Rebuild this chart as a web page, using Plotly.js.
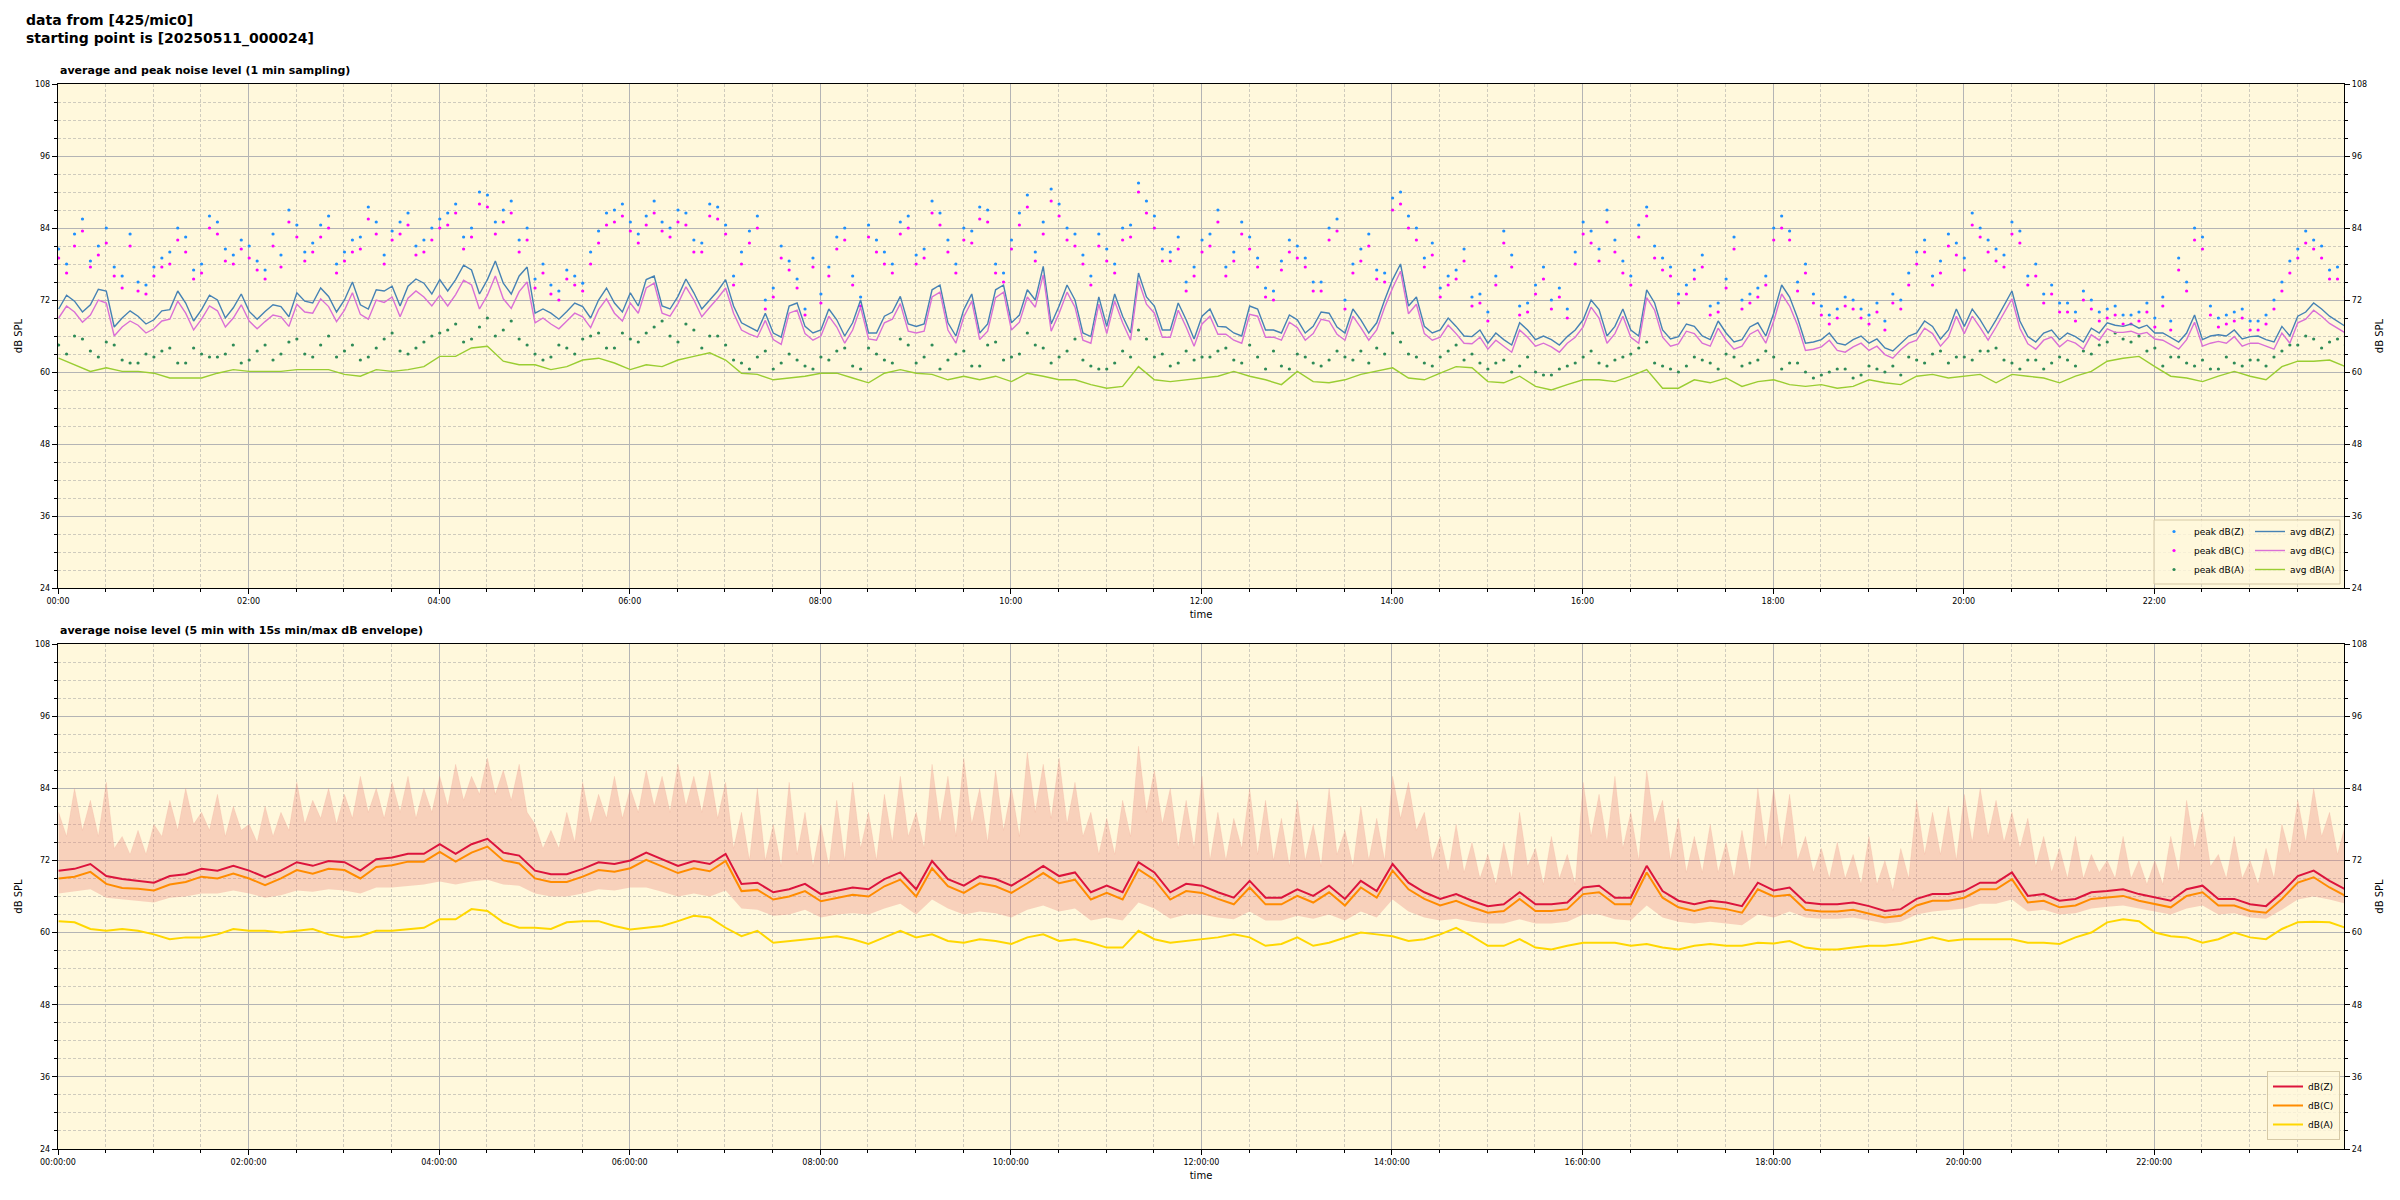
<!DOCTYPE html>
<html><head><meta charset="utf-8">
<script src="https://cdn.plot.ly/plotly-3.0.1.min.js"></script>
<style>html,body{margin:0;padding:0;background:#fff}#chart{width:2400px;height:1200px}</style>
</head><body><div id="chart"></div>
<script>
// ---------- data ----------
const startTime = [2025, 4, 11, 0, 0, 24];
const stepMinutes = 10;   // main samples: 00:00:24, 00:10:24, ...
const halfStepMinutes = 5; // "mid" samples sit halfway between main samples

// top panel: 1-min averages / peaks, main samples
const avgZ = [70.5,71.8,71.2,73.5,69.0,69.3,68.7,70.4,71.5,70.4,72.0,70.7,70.1,70.1,70.9,73.2,71.5,72.6,72.0,71.2,73.7,74.3,74.3,74.8,75.4,75.4,77.0,75.4,74.8,76.0,69.8,69.8,70.1,70.9,72.0,71.5,73.2,
  75.4,71.0,72.6,73.2,72.0,75.4,68.2,66.8,66.5,71.0,67.6,67.0,68.7,68.2,66.5,69.3,72.6,67.6,73.7,68.2,70.4,66.5,73.7,68.2,73.7,77.6,71.0,72.0,65.9,67.6,69.3,76.5,71.0,67.0,68.7,69.3,
  67.6,66.5,71.0,67.0,66.5,68.7,67.6,69.8,66.5,68.7,68.2,75.4,71.0,67.6,67.0,67.6,65.9,64.8,65.4,68.2,65.4,65.4,65.9,68.7,70.4,67.6,67.0,73.7,67.0,65.9,67.6,65.4,66.5,65.4,68.2,69.8,
  72.5,64.8,65.4,64.8,65.4,64.8,64.0,64.8,66.5,67.6,67.0,67.6,68.7,68.7,73.5,65.9,66.5,65.4,65.9,67.3,68.2,67.6,67.3,66.5,65.7,66.5,65.4,66.2,67.0,65.9,65.4,67.6,69.3,71.5,69.3,67.6];
const avgZmid = [72.8,70.0,73.8,67.5,70.2,68.0, 70.2,73.5,68.5,72.8,69.0,73.0, 68.8,71.2,69.2,71.8,74.0,70.0, 75.0,70.5,73.5,71.0,75.5,73.0,
  73.5,77.8,73.0,78.5,73.0,77.5, 70.5,68.8,71.5,69.0,74.0,70.0, 71.0,76.0,70.5,75.5,70.5,73.5, 71.0,67.5,69.8,65.8,71.5,66.5,
  70.5,66.0,72.0,66.5,70.0,68.0, 68.0,74.5,66.0,73.0,68.0,74.5, 69.5,72.0,68.0,74.5,66.5,72.5, 73.0,66.5,72.5,67.0,71.5,65.5,
  70.5,67.5,66.0,70.5,67.0,69.5, 66.5,70.0,67.5,70.5,66.5,72.0, 78.0,72.5,66.5,69.0,66.0,67.0, 66.5,64.5,67.0,66.0,64.5,67.0,
  72.0,66.0,70.5,66.0,71.5,65.5, 68.0,66.0,68.5,65.0,67.5,66.0, 74.5,69.0,65.0,66.5,64.5,66.0, 65.5,63.5,66.0,68.5,65.5,70.5,
  70.5,66.5,71.0,68.5,65.0,67.0, 66.5,65.0,66.5,67.8,68.0,67.8, 66.5,65.0,69.5,66.0,66.0,65.5, 66.0,65.0,66.0,70.0,70.5,68.5];
const avgC = [69.0,70.0,69.5,71.5,67.5,67.8,67.2,68.8,69.8,68.8,70.2,69.0,68.5,68.4,69.2,71.3,69.8,70.9,70.3,69.6,72.0,72.5,72.3,72.5,72.8,72.9,74.5,72.8,72.2,73.4,68.2,68.0,68.5,69.2,70.4,69.8,71.5,
  74.0,69.8,71.4,72.0,70.8,74.0,67.0,65.8,65.4,69.8,66.4,66.0,67.5,67.0,65.5,68.2,71.4,66.5,72.5,67.0,69.2,65.4,72.4,67.0,72.5,76.2,69.8,70.8,64.8,66.4,68.2,75.2,69.8,65.8,67.5,68.0,
  66.3,65.3,69.6,65.8,65.3,67.4,66.4,68.5,65.3,67.4,67.0,74.0,69.7,66.4,65.8,66.4,64.7,63.8,64.3,67.0,64.3,64.2,64.8,67.5,69.0,66.4,65.8,72.4,65.8,64.7,66.4,64.3,65.3,64.3,67.0,68.5,
  71.0,63.6,64.2,63.6,64.2,63.6,62.9,63.7,65.3,66.4,65.8,66.4,67.4,67.5,72.2,64.7,65.3,64.2,64.8,66.2,67.2,66.6,66.3,65.5,64.6,65.4,64.3,65.1,65.9,64.8,64.3,66.5,68.2,70.3,68.1,66.5];
const avgCmid = [71.0,68.3,72.0,66.0,68.5,66.5, 68.5,71.8,67.0,71.0,67.5,71.2, 67.2,69.5,67.6,70.0,72.2,68.4, 73.2,68.8,71.6,69.2,73.5,71.0,
  71.0,75.3,70.5,76.0,70.6,75.0, 69.0,67.2,69.8,67.4,72.2,68.5, 69.8,74.8,69.3,74.2,69.2,72.3, 69.8,66.3,68.6,64.6,70.3,65.3,
  69.3,64.8,70.8,65.3,68.8,66.8, 66.8,73.3,64.8,71.8,66.8,73.3, 68.3,70.8,66.8,73.3,65.3,71.3, 71.8,65.3,71.3,65.8,70.3,64.3,
  69.3,66.3,64.8,69.3,65.8,68.3, 65.3,68.8,66.3,69.3,65.3,70.8, 76.8,71.3,65.3,67.8,64.8,65.8, 65.3,63.3,65.8,64.8,63.3,65.8,
  70.8,64.8,69.3,64.8,70.3,64.3, 66.8,64.8,67.3,63.8,66.3,64.8, 73.0,67.8,63.8,65.3,63.3,64.8, 64.3,62.3,64.8,67.3,64.3,69.3,
  69.3,65.3,69.8,67.3,63.8,65.8, 65.3,63.8,65.3,66.6,66.8,66.6, 65.3,63.8,68.3,64.8,64.8,64.3, 64.8,63.8,64.8,68.8,69.3,67.3];
const avgA = [62.3,61.2,60.1,60.7,60.1,60.1,59.8,59.0,59.0,59.0,59.8,60.4,60.1,60.1,60.1,60.4,60.4,60.4,59.6,59.3,60.4,60.1,60.4,60.9,62.6,62.6,64.0,64.3,61.8,61.2,61.2,60.4,60.9,62.0,62.3,61.5,60.4,
  61.2,60.9,62.0,62.6,63.2,62.0,59.8,59.6,58.7,59.0,59.3,59.8,59.8,59.0,58.2,59.8,60.4,59.8,59.6,58.7,59.3,58.7,59.3,58.4,59.8,59.3,58.7,58.7,57.9,57.3,57.6,60.9,58.7,58.4,58.7,59.0,
  59.3,60.1,59.3,58.7,57.9,60.1,58.4,58.2,58.7,59.6,60.1,60.7,59.0,58.7,59.8,60.9,60.7,58.4,58.2,59.3,57.6,57.0,57.9,58.7,58.7,58.4,59.3,60.4,57.3,57.3,58.7,58.2,59.0,57.6,58.4,58.7,
  57.9,57.6,57.9,57.3,57.6,58.7,58.2,57.9,59.3,59.6,59.0,59.3,59.6,58.2,59.6,59.3,59.0,58.2,59.3,60.1,61.8,62.3,62.6,60.9,59.3,59.0,58.4,59.3,60.1,59.3,58.7,60.9,61.8,61.8,62.0,60.9];
const peakZ = [80.5,83.0,78.5,84.0,76.0,75.0,77.5,80.0,82.5,78.0,85.0,79.5,81.0,77.0,79.5,84.5,81.5,86.0,80.0,82.5,85.0,83.5,86.5,82.0,85.5,88.0,84.0,89.5,87.0,82.0,75.5,74.5,77.0,74.8,83.5,87.0,85.0,
  86.0,85.0,87.0,82.0,88.0,84.5,80.0,86.0,74.0,78.5,70.5,73.0,82.5,76.0,84.5,80.0,85.0,79.5,88.5,82.0,84.0,87.5,78.0,82.0,89.5,85.0,88.0,83.0,76.0,80.5,84.0,91.5,86.0,80.0,75.0,82.0,
  87.0,80.0,82.5,74.0,78.5,81.0,75.0,84.0,72.0,80.5,77.0,89.0,86.0,79.0,74.0,77.0,72.5,70.0,83.5,71.0,74.5,72.0,70.5,85.0,80.5,82.0,76.0,87.5,79.0,73.0,77.0,71.0,75.5,72.0,74.0,84.0,
  83.5,78.0,71.0,70.5,72.0,69.5,68.5,72.0,80.0,76.0,83.0,79.0,84.0,80.5,85.0,76.0,73.0,71.5,70.0,72.0,70.5,69.5,70.0,69.0,68.5,75.0,82.5,69.0,70.0,68.5,69.5,75.0,80.5,82.0,77.0,74.0];
const peakZmid = [78.0,85.5,81.0,77.5,83.0,74.5, 79.0,84.0,77.0,86.0,80.5,82.0, 78.5,83.0,87.0,80.0,84.5,78.0, 82.0,87.5,79.5,85.0,81.0,84.0,
  86.5,82.5,90.0,85.0,88.5,84.0, 78.0,73.5,76.0,80.0,86.5,88.0, 83.0,88.5,84.0,86.5,81.5,87.5, 76.0,83.5,72.0,81.0,75.5,79.0,
  77.5,84.0,72.5,82.0,78.0,86.0, 80.5,86.5,78.0,83.5,87.0,76.5, 86.5,80.0,90.5,84.0,79.5,83.0, 78.0,84.5,88.5,80.5,82.5,77.5,
  83.0,77.5,85.0,79.0,73.5,82.0, 79.0,75.0,85.5,78.0,83.0,76.5, 90.0,84.0,81.5,76.0,80.5,73.0, 76.0,79.5,71.5,77.5,74.0,80.0,
  83.5,87.0,78.5,84.5,81.0,77.5, 74.5,79.5,71.5,82.5,73.0,76.0, 86.0,75.0,73.0,69.5,72.5,70.5, 71.5,73.0,76.5,82.0,78.5,81.5,
  86.5,82.0,79.5,83.5,78.0,74.5, 71.5,73.5,70.0,71.0,69.5,71.5, 72.5,79.0,84.0,71.0,69.5,70.5, 68.5,72.0,78.5,83.5,81.0,77.5];
const peakC = [79.0,81.0,77.5,81.5,74.0,73.5,76.0,78.0,80.0,76.5,83.0,78.0,79.0,75.5,77.5,82.5,80.0,84.0,78.5,80.5,83.0,82.0,84.5,80.0,84.0,86.5,82.5,87.5,85.0,80.0,74.0,73.0,75.5,73.5,81.5,85.0,83.5,
  84.5,83.5,85.0,80.0,86.0,83.0,78.0,84.0,72.5,77.0,69.5,71.5,80.5,74.5,82.5,78.0,83.0,78.0,86.5,80.0,82.0,85.5,76.5,80.5,87.5,83.0,86.0,81.0,74.5,78.5,82.0,90.0,84.0,78.5,73.5,80.0,
  85.0,78.5,80.5,72.5,77.0,79.0,73.5,82.0,70.5,78.5,75.5,87.0,84.0,77.5,72.5,75.5,71.0,68.5,81.5,69.5,73.0,70.5,69.0,83.0,78.5,80.0,74.5,86.0,77.0,71.5,75.5,69.5,74.0,70.5,72.5,82.0,
  82.0,76.5,69.5,69.0,70.5,68.0,67.0,70.5,78.0,74.5,81.0,77.0,82.5,78.5,83.0,74.5,71.5,70.0,68.5,70.5,69.0,68.0,68.5,67.5,67.0,73.5,80.5,67.5,68.5,67.0,68.0,73.5,79.0,80.5,75.5,72.5];
const peakCmid = [76.5,83.5,79.5,76.0,81.0,73.0, 77.5,82.0,75.5,84.0,78.5,80.5, 77.0,81.0,85.0,78.5,82.5,76.5, 80.0,85.5,78.0,83.0,79.5,82.0,
  84.5,80.5,88.0,83.0,86.5,82.0, 76.5,72.0,74.5,78.0,84.5,86.0, 81.5,86.5,82.5,84.5,80.0,85.5, 74.5,81.5,70.5,79.0,74.0,77.5,
  76.0,82.0,71.0,80.0,76.5,84.0, 79.0,84.5,76.5,81.5,85.0,75.0, 84.5,78.5,88.5,82.0,78.0,81.0, 76.5,82.5,86.5,78.5,80.5,76.0,
  81.0,76.0,83.0,77.5,72.0,80.0, 77.5,73.5,83.5,76.5,81.0,75.0, 88.0,82.0,79.5,74.5,78.5,71.5, 74.5,77.5,70.0,75.5,72.5,78.0,
  81.5,85.0,76.5,82.5,79.0,76.0, 73.0,77.5,70.0,80.5,71.5,74.5, 84.0,73.5,71.5,68.0,71.0,69.0, 70.0,71.5,74.5,80.0,76.5,79.5,
  84.5,80.0,77.5,81.5,76.0,73.0, 70.0,72.0,68.5,69.5,68.0,70.0, 71.0,77.0,82.0,69.5,68.0,69.0, 67.0,70.5,76.5,81.5,79.0,75.5];
const peakA = [64.5,66.0,63.5,65.0,62.0,61.5,62.5,64.0,61.5,63.0,62.5,64.5,62.0,64.5,63.0,65.5,62.5,66.0,63.5,62.0,64.0,66.5,63.0,65.0,66.5,68.0,65.5,69.0,67.0,65.5,63.0,62.5,64.0,65.5,66.5,64.0,65.5,
  66.5,68.5,65.0,67.0,66.0,64.5,61.5,62.5,60.5,63.0,61.0,62.5,63.5,61.0,64.0,62.0,65.5,61.5,64.5,62.0,63.5,61.0,65.0,62.5,66.5,64.0,62.5,65.5,61.0,60.5,63.5,67.0,62.5,61.0,63.5,62.5,
  63.5,62.0,64.5,60.5,61.0,63.0,61.5,62.0,62.5,63.5,64.0,66.5,63.0,61.5,62.5,64.5,63.0,60.5,62.0,61.0,60.0,59.5,61.0,62.5,61.5,62.0,63.0,65.0,61.0,60.0,62.5,61.5,63.0,61.0,62.0,62.5,
  61.5,60.0,59.5,60.5,59.0,61.0,60.0,59.5,62.0,63.0,61.5,62.5,63.5,64.0,61.5,62.0,60.5,62.5,61.0,63.0,65.0,65.5,66.0,64.0,62.5,61.5,62.0,60.5,61.5,62.0,61.0,63.5,64.5,65.5,65.0,64.5];
const peakAmid = [63.0,65.5,62.5,64.5,61.5,63.0, 63.5,61.5,64.0,62.5,63.0,61.5, 63.5,62.0,65.0,63.0,64.5,62.5, 64.5,62.5,65.5,63.5,64.0,66.0,
  67.0,65.0,67.5,66.0,68.5,64.5, 62.0,64.5,63.0,66.0,64.0,66.5, 65.0,67.5,66.0,68.0,64.0,66.0, 62.0,60.5,63.5,61.5,62.0,60.5,
  62.0,64.0,60.5,63.0,61.5,64.5, 62.5,60.5,63.0,61.0,64.5,62.0, 63.0,64.5,61.5,63.5,62.0,60.5, 61.5,62.5,65.5,63.0,61.5,62.0,
  62.5,64.0,61.5,62.5,63.5,60.5, 62.5,61.0,63.5,62.0,61.5,63.0, 65.0,62.5,61.0,63.5,62.0,61.5, 61.5,60.0,62.5,59.5,60.5,61.5,
  63.5,61.0,62.5,64.0,61.5,60.5, 61.0,62.0,60.5,62.5,61.5,63.5, 60.5,61.5,59.0,60.0,60.5,59.5, 60.5,61.0,62.5,61.5,63.5,62.5,
  62.0,63.5,62.0,60.5,62.0,61.5, 62.0,63.5,64.5,66.5,65.0,63.5, 61.0,62.5,61.0,60.5,62.5,61.0, 62.0,62.5,64.5,66.0,64.0,65.5];

// bottom panel: 5-min averages (main samples) and 15 s min/max envelope
const levZ = [70.3,70.6,71.4,69.4,68.9,68.6,68.3,69.4,69.7,70.6,70.3,71.1,70.3,69.2,70.3,71.7,71.1,71.9,71.7,70.3,72.2,72.5,73.1,73.1,74.7,73.1,74.7,75.6,73.3,72.8,70.3,69.7,69.7,70.6,71.7,71.4,72.0,
  73.3,72.2,71.1,71.9,71.4,73.1,68.1,68.3,66.7,67.2,68.1,66.4,66.9,67.5,67.2,68.9,70.0,67.2,71.9,68.9,67.8,69.4,68.9,67.8,69.4,71.1,69.4,70.0,66.7,67.8,66.7,71.7,70.0,66.7,68.1,67.8,
  66.7,65.8,68.6,65.8,65.8,67.2,66.1,67.8,65.6,68.6,66.9,71.4,68.3,66.7,65.6,66.4,65.3,64.4,64.7,66.7,64.7,64.7,65.0,67.5,67.8,65.8,65.8,71.1,66.9,65.3,64.7,65.3,65.0,64.4,68.3,67.0,
  67.5,65.0,64.7,64.7,65.0,64.4,63.6,63.9,65.6,66.4,66.4,66.9,68.3,68.3,70.0,66.1,66.4,65.3,65.6,66.7,66.9,67.2,66.4,65.8,65.3,67.2,67.8,65.6,65.6,64.7,64.4,66.7,69.4,70.3,68.6,67.2];
const levC = [69.0,69.3,70.1,68.1,67.4,67.3,67.0,68.0,68.4,69.3,69.0,69.8,69.0,67.9,69.0,70.4,69.8,70.6,70.4,69.0,70.9,71.2,71.8,71.8,73.4,71.8,73.3,74.3,72.0,71.5,69.0,68.4,68.4,69.3,70.4,70.1,70.7,
  72.1,71.0,69.9,70.7,70.2,71.9,66.9,67.1,65.5,66.0,66.9,65.2,65.7,66.3,66.0,67.7,68.8,66.0,70.7,67.7,66.6,68.2,67.7,66.6,68.2,69.9,68.2,68.8,65.5,66.6,65.5,70.5,68.8,65.5,66.9,66.6,
  65.6,64.7,67.5,64.7,64.7,66.1,65.0,66.7,64.5,67.5,65.8,70.3,67.2,65.6,64.5,65.3,64.2,63.3,63.6,65.6,63.6,63.6,63.9,66.4,66.7,64.7,64.7,70.0,65.8,64.2,63.6,64.2,63.9,63.3,67.2,66.0,
  66.3,63.8,63.5,63.5,63.8,63.2,62.5,62.8,64.5,65.3,65.3,65.8,67.2,67.2,68.9,65.0,65.3,64.2,64.5,65.6,65.8,66.1,65.3,64.7,64.2,66.1,66.7,64.5,64.5,63.6,63.3,65.6,68.3,69.2,67.5,66.1];
const levA = [61.9,61.7,60.6,60.3,60.6,60.3,59.7,58.9,59.2,59.2,59.7,60.6,60.3,60.3,60.0,60.3,60.6,59.7,59.2,59.4,60.3,60.3,60.6,60.8,62.2,62.2,63.9,63.6,61.7,60.8,60.8,60.6,61.7,61.9,61.9,61.1,60.5,
  60.8,61.1,61.9,62.8,62.5,60.8,59.4,60.3,58.3,58.6,58.9,59.2,59.4,58.9,58.1,59.2,60.3,59.2,59.7,58.6,58.3,58.9,58.6,58.1,59.2,59.7,58.6,58.9,58.3,57.5,57.5,60.3,58.9,58.3,58.6,58.9,
  59.2,59.7,59.2,57.8,58.1,59.2,57.8,58.3,59.2,60.0,59.7,59.4,58.6,58.9,59.7,60.8,59.4,57.8,57.8,58.9,57.5,57.2,57.8,58.3,58.3,58.3,57.8,58.1,57.5,57.2,57.8,58.1,57.8,57.8,58.3,58.2,
  58.6,57.5,57.2,57.2,57.5,57.8,57.8,58.1,58.6,59.2,58.6,58.9,58.9,58.9,58.9,58.3,58.3,58.1,59.2,60.0,61.7,62.2,61.9,60.0,59.4,59.2,58.3,58.9,60.0,59.2,58.9,60.6,61.7,61.8,61.7,60.8];
const envMin = [66.5,66.8,67.2,65.8,65.5,65.3,65.0,65.8,66.0,66.5,66.5,67.0,66.5,65.8,66.2,67.0,66.8,67.2,67.0,66.5,67.5,67.5,67.8,68.0,68.5,68.0,68.5,68.8,68.0,67.8,66.5,66.0,66.0,66.5,67.2,67.0,67.5,
  67.5,66.8,66.0,66.5,66.0,67.0,64.0,63.8,62.8,63.0,63.8,62.5,63.0,63.2,63.0,64.0,64.8,63.0,65.5,64.0,63.0,63.5,63.2,62.5,63.8,64.5,63.5,64.0,62.0,62.5,62.0,65.0,64.0,62.3,63.0,63.0,
  62.5,62.2,63.5,62.0,62.0,62.8,62.3,63.0,62.0,63.5,62.5,65.5,63.5,62.5,62.0,62.3,61.8,61.5,61.5,62.2,61.5,61.5,61.8,63.0,63.0,62.2,62.0,64.5,62.5,61.8,61.5,61.8,61.5,61.2,63.0,62.5,
  63.5,62.5,62.3,62.3,62.5,62.0,61.5,61.8,63.0,63.5,63.8,64.0,64.8,64.8,65.5,63.5,63.8,63.0,63.2,64.0,64.3,64.5,64.0,63.5,63.0,64.0,64.5,63.0,63.2,62.5,62.3,63.8,65.5,66.0,65.5,64.8];
// envelope maximum, sampled every 5 min (main + mid samples)
const envMax = [80,76,84,77,82,76,85,74,76,73,77,73, 78,76,82,77,84,78,80,77,83,76,81,77,
  78,75,81,76,80,77,85,78,82,79,84,78, 83,79,86,80,84,79,85,80,86,79,84,80,
  86,81,88,82,86,83,89,83,87,82,88,80, 78,74,77,74,80,75,85,78,83,79,86,79,
  84,80,87,81,86,80,88,81,86,80,87,79, 85,74,80,72,84,72,78,71,85,73,80,71,
  78,71,82,72,85,74,80,72,83,75,86,76, 80,74,88,78,86,76,89,78,84,75,87,77,
  84,76,90,80,88,79,89,78,85,76,80,73, 79,73,82,76,91,80,87,78,84,74,82,74,
  86,72,80,72,79,74,84,73,82,72,79,71, 82,72,78,71,84,73,77,71,81,72,79,72,
  86,79,85,77,80,72,76,70,78,70,75,69, 73,68,75,69,80,71,74,68,76,69,73,68,
  85,76,83,75,86,74,80,72,87,78,82,72, 79,70,76,70,78,70,75,69,77,70,84,74,
  84,74,83,72,76,70,74,69,75,69,73,68, 76,68,72,67,74,69,82,73,80,73,81,72,
  83,75,84,76,82,75,80,74,79,71,76,70, 74,69,76,69,73,70,72,69,76,69,72,68,
  72,68,76,70,82,74,80,71,73,69,76,69, 72,68,74,69,78,73,82,75,84,76,80,73, 78];

const yTicks = [24, 36, 48, 60, 72, 84, 96, 108];

// ---------- helpers ----------
function timeAxis(n, stepMin) {
  const base = Date.UTC(startTime[0], startTime[1], startTime[2], startTime[3], startTime[4], startTime[5]);
  const out = [];
  for (let i = 0; i < n; i++) {
    out.push(new Date(base + i * stepMin * 60000).toISOString().slice(0, 19).replace('T', ' '));
  }
  return out;
}
// put main samples and the in-between samples together in time order
function merge(main, mid) {
  const out = [];
  for (let i = 0; i < main.length; i++) {
    out.push(main[i]);
    if (i < mid.length) out.push(mid[i]);
  }
  return out;
}
const t = timeAxis(avgZ.length, stepMinutes);
const t5 = timeAxis(envMax.length, halfStepMinutes);

const FONT = 'DejaVu Sans, sans-serif';
const W = 2400, H = 1200, L = 58, R = 56, T = 84, B = 51;
const plotW = W - L - R, plotH = H - T - B;
const px2x = p => (p - L) / plotW;
const px2y = p => (H - B - p) / plotH;

const traces = [
  {x: t5, y: merge(peakZ, peakZmid), type: 'scatter', mode: 'markers', name: 'peak dB(Z)', marker: {color: '#1e90ff', size: 3.2}, xaxis: 'x', yaxis: 'y', legend: 'legend'},
  {x: t5, y: merge(peakC, peakCmid), type: 'scatter', mode: 'markers', name: 'peak dB(C)', marker: {color: '#ff00ff', size: 3.2}, xaxis: 'x', yaxis: 'y', legend: 'legend'},
  {x: t5, y: merge(peakA, peakAmid), type: 'scatter', mode: 'markers', name: 'peak dB(A)', marker: {color: '#2e8b57', size: 3.2}, xaxis: 'x', yaxis: 'y', legend: 'legend'},
  {x: t5, y: merge(avgZ, avgZmid), type: 'scatter', mode: 'lines', name: 'avg dB(Z)', line: {color: '#4682b4', width: 1.4}, xaxis: 'x', yaxis: 'y', legend: 'legend2'},
  {x: t5, y: merge(avgC, avgCmid), type: 'scatter', mode: 'lines', name: 'avg dB(C)', line: {color: '#da70d6', width: 1.4}, xaxis: 'x', yaxis: 'y', legend: 'legend2'},
  {x: t, y: avgA, type: 'scatter', mode: 'lines', name: 'avg dB(A)', line: {color: '#9acd32', width: 1.4}, xaxis: 'x', yaxis: 'y', legend: 'legend2'},

  {x: t, y: envMin, type: 'scatter', mode: 'lines', line: {width: 0, color: 'rgba(0,0,0,0)'}, showlegend: false, hoverinfo: 'skip', xaxis: 'x2', yaxis: 'y3'},
  {x: t5, y: envMax, type: 'scatter', mode: 'lines', fill: 'tonexty', fillcolor: 'rgba(235,130,120,0.33)', line: {width: 0.5, color: 'rgba(235,140,125,0.3)'}, showlegend: false, hoverinfo: 'skip', xaxis: 'x2', yaxis: 'y3'},
  {x: t, y: levZ, type: 'scatter', mode: 'lines', name: 'dB(Z)', line: {color: '#dc143c', width: 2}, xaxis: 'x2', yaxis: 'y3', legend: 'legend3'},
  {x: t, y: levC, type: 'scatter', mode: 'lines', name: 'dB(C)', line: {color: '#ff8c00', width: 2}, xaxis: 'x2', yaxis: 'y3', legend: 'legend3'},
  {x: t, y: levA, type: 'scatter', mode: 'lines', name: 'dB(A)', line: {color: '#ffd700', width: 2}, xaxis: 'x2', yaxis: 'y3', legend: 'legend3'},
  // empty traces so the mirrored right-hand axes are drawn
  {x: [t[0]], y: [null], type: 'scatter', mode: 'lines', showlegend: false, hoverinfo: 'skip', xaxis: 'x', yaxis: 'y2'},
  {x: [t[0]], y: [null], type: 'scatter', mode: 'lines', showlegend: false, hoverinfo: 'skip', xaxis: 'x2', yaxis: 'y4'}
];

const gridMajor = '#b4b4b4';
const gridMinor = '#cfcbbd';
function xAxis(fmt, domainAnchor) {
  return {
    type: 'date', anchor: domainAnchor,
    range: ['2025-05-11 00:00:00', '2025-05-11 23:59:30'],
    tick0: '2025-05-11 00:00:00', dtick: 7200000, tickformat: fmt,
    showgrid: true, gridcolor: gridMajor, gridwidth: 1,
    showline: true, linecolor: '#000', linewidth: 1.2, mirror: true,
    ticks: 'outside', ticklen: 5, tickcolor: '#000', tickwidth: 1,
    tickfont: {family: FONT, size: 8, color: '#000'},
    minor: {tick0: '2025-05-11 00:00:00', dtick: 1800000, ticks: 'outside', ticklen: 3, tickcolor: '#000', showgrid: true, gridcolor: gridMinor, griddash: '3px,2px', gridwidth: 1},
    zeroline: false,
    title: {text: 'time', font: {family: FONT, size: 10, color: '#000'}, standoff: 6}
  };
}
function yAxis(domain, anchor, side, overlay) {
  const a = {
    domain: domain, anchor: anchor, side: side,
    range: [24, 108], tickvals: yTicks, ticktext: yTicks.map(String),
    showgrid: !overlay, gridcolor: gridMajor, gridwidth: 1,
    showline: true, linecolor: '#000', linewidth: 1.2,
    ticks: 'outside', ticklen: 5, tickcolor: '#000', tickwidth: 1,
    tickfont: {family: FONT, size: 8, color: '#000'},
    minor: {tick0: 0, dtick: 3, ticks: 'outside', ticklen: 3, tickcolor: '#000', showgrid: !overlay, gridcolor: gridMinor, griddash: '3px,2px', gridwidth: 1},
    zeroline: false,
    title: {text: 'dB SPL', font: {family: FONT, size: 10, color: '#000'}, standoff: 10}
  };
  if (overlay) a.overlaying = overlay;
  return a;
}
const topDom = [px2y(588), 1];
const botDom = [0, px2y(644)];

const legendBox = {bgcolor: 'rgba(0,0,0,0)', borderwidth: 0, font: {family: FONT, size: 9, color: '#000'}, itemwidth: 30, tracegroupgap: 0, traceorder: 'normal', yanchor: 'bottom', xanchor: 'right'};

const layout = {
  width: W, height: H,
  margin: {l: L, r: R, t: T, b: B, autoexpand: false},
  paper_bgcolor: '#ffffff', plot_bgcolor: '#fff8dc',
  font: {family: FONT, color: '#000'},
  xaxis: xAxis('%H:%M', 'y'),
  xaxis2: xAxis('%H:%M:%S', 'y3'),
  yaxis: yAxis(topDom, 'x', 'left'),
  yaxis2: yAxis(topDom, 'x', 'right', 'y'),
  yaxis3: yAxis(botDom, 'x2', 'left'),
  yaxis4: yAxis(botDom, 'x2', 'right', 'y3'),
  legend: Object.assign({}, legendBox, {x: px2x(2250), y: px2y(584)}),
  legend2: Object.assign({}, legendBox, {x: px2x(2340), y: px2y(584)}),
  legend3: Object.assign({}, legendBox, {x: px2x(2340), y: px2y(1140), bgcolor: 'rgba(255,248,220,0.8)', bordercolor: '#d6c9a6', borderwidth: 1}),
  shapes: [
    {type: 'rect', xref: 'paper', yref: 'paper', x0: px2x(2154), x1: px2x(2340), y0: px2y(584), y1: px2y(520), fillcolor: 'rgba(255,248,220,0.8)', line: {color: '#d6c9a6', width: 1}, layer: 'above'}
  ],
  annotations: [
    {xref: 'paper', yref: 'paper', x: px2x(24), y: px2y(10), xanchor: 'left', yanchor: 'top', align: 'left', showarrow: false,
     text: '<b>data from [425/mic0]</b><br><b>starting point is [20250511_000024]</b>', font: {family: FONT, size: 14, color: '#000'}},
    {xref: 'paper', yref: 'paper', x: 0, y: px2y(79), xanchor: 'left', yanchor: 'bottom', showarrow: false,
     text: '<b>average and peak noise level (1 min sampling)</b>', font: {family: FONT, size: 11, color: '#000'}},
    {xref: 'paper', yref: 'paper', x: 0, y: px2y(639), xanchor: 'left', yanchor: 'bottom', showarrow: false,
     text: '<b>average noise level (5 min with 15s min/max dB envelope)</b>', font: {family: FONT, size: 11, color: '#000'}}
  ]
};

Plotly.newPlot('chart', traces, layout, {staticPlot: true, displayModeBar: false});
</script>
</body></html>
